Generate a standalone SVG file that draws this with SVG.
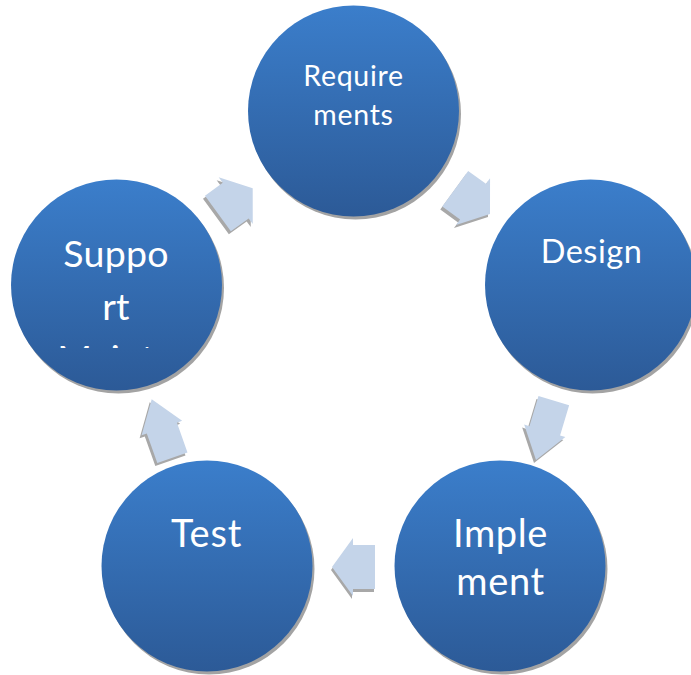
<svg xmlns="http://www.w3.org/2000/svg" xmlns:xlink="http://www.w3.org/1999/xlink" width="691" height="675" viewBox="0 0 691 675">
  <style>
    .disc { fill: url(#discFill); }
    .disc-shadow { fill: #a3a3a3; }
    .label { font-family: Lato, "Open Sans", sans-serif; fill: #ffffff; text-anchor: middle; }
    .arrow { fill: #c4d4e9; }
    .arrow-shadow { fill: #a8a8a8; }
  </style>
  <defs>
    <linearGradient id="discFill" x1="0" y1="0" x2="0" y2="1">
      <stop offset="0" stop-color="#3b7ecb"/>
      <stop offset="1" stop-color="#2c5a97"/>
    </linearGradient>
    <!-- block arrows, tip at the origin, pointing along +x -->
    <polygon id="arrowShort" points="0,0 -21,-29 -21,-22 -43,-22 -43,22 -21,22 -21,29"/>
    <polygon id="arrowLong" points="0,0 -30.5,-21.5 -30.5,-16 -62,-16 -62,16 -30.5,16 -30.5,21.5"/>
    <clipPath id="supportClip">
      <rect x="0" y="0" width="240" height="348"/>
    </clipPath>
  </defs>

  <g id="connectors">
    <g id="arrow-support-requirements">
      <use xlink:href="#arrowShort" class="arrow-shadow" transform="translate(250.7,191.3) rotate(-36)"/>
      <use xlink:href="#arrowShort" class="arrow" transform="translate(252.7,188.3) rotate(-36)"/>
    </g>
    <g id="arrow-requirements-design">
      <use xlink:href="#arrowShort" class="arrow-shadow" transform="translate(488,217) rotate(36)"/>
      <use xlink:href="#arrowShort" class="arrow" transform="translate(490,214) rotate(36)"/>
    </g>
    <g id="arrow-design-implement">
      <use xlink:href="#arrowLong" class="arrow-shadow" transform="translate(534,463) rotate(106.7)"/>
      <use xlink:href="#arrowLong" class="arrow" transform="translate(536,460) rotate(106.7)"/>
    </g>
    <g id="arrow-implement-test">
      <use xlink:href="#arrowShort" class="arrow-shadow" transform="translate(331,570) rotate(180)"/>
      <use xlink:href="#arrowShort" class="arrow" transform="translate(332,567) rotate(180)"/>
    </g>
    <g id="arrow-test-support">
      <use xlink:href="#arrowLong" class="arrow-shadow" transform="translate(149.7,402.3) rotate(-109.5)"/>
      <use xlink:href="#arrowLong" class="arrow" transform="translate(151.7,399.3) rotate(-109.5)"/>
    </g>
  </g>

  <g id="node-requirements">
    <circle class="disc-shadow" cx="355.5" cy="114" r="105.5"/>
    <circle class="disc" cx="353.5" cy="111" r="105.5"/>
    <text class="label" font-size="28.5" letter-spacing="0.7"><tspan x="353.5" y="86">Require</tspan><tspan x="353.5" y="125">ments</tspan></text>
  </g>

  <g id="node-design">
    <circle class="disc-shadow" cx="592.5" cy="288" r="105.5"/>
    <circle class="disc" cx="590.5" cy="285" r="105.5"/>
    <text class="label" font-size="32.5" letter-spacing="0.5" x="591.5" y="263">Design</text>
  </g>

  <g id="node-implement">
    <circle class="disc-shadow" cx="502" cy="569" r="105.5"/>
    <circle class="disc" cx="500" cy="566" r="105.5"/>
    <text class="label" font-size="38" letter-spacing="0.6"><tspan x="500.5" y="547">Imple</tspan><tspan x="500.5" y="595">ment</tspan></text>
  </g>

  <g id="node-test">
    <circle class="disc-shadow" cx="209" cy="569" r="105.5"/>
    <circle class="disc" cx="207" cy="566" r="105.5"/>
    <text class="label" font-size="38" letter-spacing="0.8" x="206.5" y="547">Test</text>
  </g>

  <g id="node-support">
    <circle class="disc-shadow" cx="118.5" cy="288" r="105.5"/>
    <circle class="disc" cx="116.5" cy="285" r="105.5"/>
    <text class="label" font-size="37.5" letter-spacing="0.3" clip-path="url(#supportClip)"><tspan x="116" y="267">Suppo</tspan><tspan x="116" y="319.5">rt</tspan><tspan x="116" y="372">Mainte</tspan></text>
  </g>
</svg>
